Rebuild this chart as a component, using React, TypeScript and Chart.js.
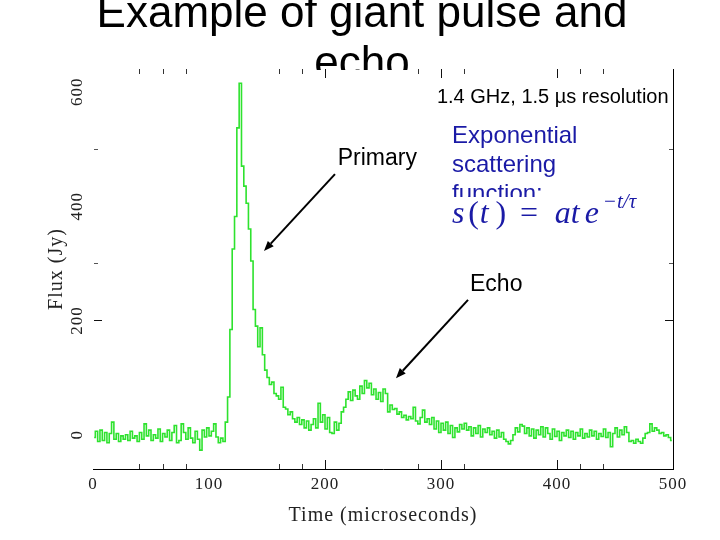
import { useEffect, useRef } from "react";
import { Chart, registerables } from "chart.js";

Chart.register(...registerables);

// ---- data (flux density per 2 µs bin) ----
const BIN_US = 2;
const fluxJy: number[] = [
  -5, 6, -12, 8, -10, 4, -14, 2, 22, -8,
  2, -12, -2, -8, 0, -10, 6, -6, -2, -12,
  4, -8, 19, -2, 8, -10, 0, -6, 10, -12,
  2, -4, 8, -10, 4, 16, -14, -10, 19, 4,
  -8, 12, -6, -14, 6, -8, -27, 8, -4, 12,
  -2, 6, 19, -4, -14, -6, -12,
  22, 66, 184, 325, 382, 537, 615, 470, 435, 405,
  360, 304, 219, 190, 154, 187, 140, 113, 100, 88,
  92, 72, 68, 62, 83, 48, 45, 35, 40, 28,
  22, 30, 18, 26, 12, 24, 8, 18, 28, 12,
  55, 22, 35, 10, 30, 4, 2, 22, 8, 20,
  40, 48, 62, 75, 60, 78, 68, 62, 85, 72,
  95, 82, 90, 70, 80, 62, 74, 58, 80, 72,
  40, 52, 44, 46, 36, 40, 30, 34, 26, 32,
  28, 48, 24, 19, 30, 43, 22, 28, 18, 30,
  10, 24, 4, 20, 8, 22, 2, 16, -5, 12,
  5, 18, 10, 20, 8, 14, -2, 12, 2, 16,
  -4, 10, 4, 12, 0, 6, -6, 8, -4, 4,
  -8, -12, -16, -10, 0, 12, 5, 18, 15, 2,
  12, -2, 10, -6, 8, 0, 14, -4, 12, 2,
  -8, 10, -3, 6, -10, 4, -2, 8, -5, 6,
  -8, 4, -2, 10, -6, 2, -4, 8, -2, 6,
  -8, 2, -3, 10, -5, 4, -21, 2, 12, -4,
  8, 0, 14, 4, -12, -10, -15, -8, -12, -15,
  -6, 2, 4, 19, 6, 12, 8, 2, 4, -2,
  0, -5, -10,
];
const timeUs: number[] = fluxJy.map((_, i) => i * BIN_US + BIN_US / 2);

const xTickLabels = [0, 100, 200, 300, 400, 500];
const yTickLabels = [0, 200, 400, 600];
const xMajorTickMarks = [200, 300, 400];
const xMinorTickMarks = [40, 60, 80, 160, 180, 280, 320, 420, 440];
const yMajorTickMarks = [200];
const yMinorTickMarks = [300, 500];

const titleLines = ["Example of giant pulse and", "echo"];
const xAxisTitle = "Time (microseconds)";
const yAxisTitle = "Flux (Jy)";
const freqNote = "1.4 GHz, 1.5 µs resolution";
const primaryNote = "Primary";
const scatterLines = ["Exponential", "scattering", "function:"];
const echoNote = "Echo";

// annotation anchors in data coordinates (time µs, flux Jy)
const freqAt = { t: 296.5, f: 580 };
const primaryAt = { t: 211, f: 472 };
const scatterAt = { t: 309.5, f: [510, 460, 409], clipF: 416 };
const echoAt = { t: 325, f: 251 };
const primaryArrow = { t1: 208.6, f1: 456, t2: 147.4, f2: 321.5 };
const echoArrow = { t1: 323.3, f1: 236, t2: 261.2, f2: 99 };
const formulaAt = { f: 370, supF: 397 };
const formulaParts = [
  { s: "s", t: 309.5, italic: true, sup: false },
  { s: "(", t: 323.5, italic: false, sup: false },
  { s: "t", t: 333.5, italic: true, sup: false },
  { s: ")", t: 347, italic: false, sup: false },
  { s: "=", t: 368, italic: false, sup: false },
  { s: "at", t: 398, italic: true, sup: false },
  { s: "e", t: 424, italic: true, sup: false },
  { s: "−t/τ", t: 439.5, italic: true, sup: true },
];

const SANS = '"Liberation Sans", Arial, sans-serif';
const SERIF = '"Liberation Serif", "Times New Roman", serif';
const GREEN = "#2ee22e";
const BLUE = "#1a1aa6";

function drawArrow(ctx: CanvasRenderingContext2D, x1: number, y1: number, x2: number, y2: number) {
  const ang = Math.atan2(y2 - y1, x2 - x1);
  const head = 10;
  const half = 4;
  const bx = x2 - head * Math.cos(ang);
  const by = y2 - head * Math.sin(ang);
  ctx.beginPath();
  ctx.moveTo(x1, y1);
  ctx.lineTo(bx, by);
  ctx.stroke();
  ctx.beginPath();
  ctx.moveTo(x2, y2);
  ctx.lineTo(bx + half * Math.sin(ang), by - half * Math.cos(ang));
  ctx.lineTo(bx - half * Math.sin(ang), by + half * Math.cos(ang));
  ctx.closePath();
  ctx.fill();
}

const decorPlugin = {
  id: "decor",
  beforeDraw(chart: any) {
    const ctx: any = chart.ctx;
    ctx.save();
    ctx.beginPath();
    ctx.rect(0, 0, chart.width, chart.chartArea.top + 1);
    ctx.clip();
    ctx.fillStyle = "#000";
    ctx.font = `44px ${SANS}`;
    ctx.textAlign = "center";
    ctx.textBaseline = "alphabetic";
    ctx.fillText(titleLines[0], 362, 27);
    ctx.fillText(titleLines[1], 362, 77);
    ctx.restore();
    // wider spacing for the plot's axis lettering
    if ("letterSpacing" in ctx) ctx.letterSpacing = "1px";
  },
  beforeDatasetsDraw(chart: any) {
    const ctx: any = chart.ctx;
    if ("letterSpacing" in ctx) ctx.letterSpacing = "0px";
  },
  afterDatasetsDraw(chart: any) {
    const ctx: CanvasRenderingContext2D = chart.ctx;
    const a = chart.chartArea;
    const xs = chart.scales.x;
    const ys = chart.scales.y;
    ctx.save();
    ctx.lineWidth = 1;
    const vtick = (v: number, len: number, color: string) => {
      const px = Math.round(xs.getPixelForValue(v)) + 0.5;
      ctx.strokeStyle = color;
      ctx.beginPath();
      ctx.moveTo(px, a.bottom);
      ctx.lineTo(px, a.bottom - len);
      ctx.moveTo(px, a.top);
      ctx.lineTo(px, a.top + len);
      ctx.stroke();
    };
    const htick = (v: number, len: number, color: string) => {
      const py = Math.round(ys.getPixelForValue(v)) + 0.5;
      ctx.strokeStyle = color;
      ctx.beginPath();
      ctx.moveTo(a.left + 1, py);
      ctx.lineTo(a.left + 1 + len, py);
      ctx.moveTo(a.right, py);
      ctx.lineTo(a.right - len, py);
      ctx.stroke();
    };
    xMajorTickMarks.forEach((v) => vtick(v, 9, "#111"));
    xMinorTickMarks.forEach((v) => vtick(v, 5, "#333"));
    yMajorTickMarks.forEach((v) => htick(v, 8, "#111"));
    yMinorTickMarks.forEach((v) => htick(v, 4, "#555"));
    ctx.strokeStyle = "#000";
    const rx = Math.round(a.right) + 0.5;
    ctx.beginPath();
    ctx.moveTo(rx, a.top);
    ctx.lineTo(rx, a.bottom);
    ctx.stroke();
    ctx.restore();
  },
  afterDraw(chart: any) {
    const ctx: CanvasRenderingContext2D = chart.ctx;
    const xs = chart.scales.x;
    const ys = chart.scales.y;
    const X = (t: number) => xs.getPixelForValue(t);
    const Y = (f: number) => ys.getPixelForValue(f);
    ctx.save();
    ctx.textAlign = "left";
    ctx.textBaseline = "alphabetic";

    ctx.fillStyle = "#000";
    ctx.font = `20px ${SANS}`;
    ctx.fillText(freqNote, X(freqAt.t), Y(freqAt.f));

    ctx.font = `23px ${SANS}`;
    ctx.fillText(primaryNote, X(primaryAt.t), Y(primaryAt.f));
    ctx.fillText(echoNote, X(echoAt.t), Y(echoAt.f));

    ctx.save();
    ctx.beginPath();
    ctx.rect(0, 0, chart.width, Y(scatterAt.clipF));
    ctx.clip();
    ctx.fillStyle = BLUE;
    ctx.font = `24px ${SANS}`;
    scatterLines.forEach((line, i) => ctx.fillText(line, X(scatterAt.t), Y(scatterAt.f[i])));
    ctx.restore();

    ctx.fillStyle = BLUE;
    formulaParts.forEach((p) => {
      const size = p.sup ? 21 : 32;
      ctx.font = `${p.italic ? "italic " : ""}${size}px ${SERIF}`;
      ctx.fillText(p.s, X(p.t), Y(p.sup ? formulaAt.supF : formulaAt.f));
    });

    ctx.strokeStyle = "#000";
    ctx.fillStyle = "#000";
    ctx.lineWidth = 2;
    drawArrow(ctx, X(primaryArrow.t1), Y(primaryArrow.f1), X(primaryArrow.t2), Y(primaryArrow.f2));
    drawArrow(ctx, X(echoArrow.t1), Y(echoArrow.f1), X(echoArrow.t2), Y(echoArrow.f2));
    ctx.restore();
  },
};

export default function App() {
  const ref = useRef<HTMLCanvasElement>(null);
  useEffect(() => {
    if (!ref.current) return;
    const chart = new Chart(ref.current, {
      type: "line",
      data: {
        datasets: [
          {
            data: timeUs.map((t, i) => ({ x: t, y: fluxJy[i] })),
            borderColor: GREEN,
            borderWidth: 1.6,
            pointRadius: 0,
            stepped: "middle",
            fill: false,
          },
        ],
      },
      options: {
        responsive: false,
        animation: false,
        devicePixelRatio: 1,
        layout: { padding: { left: 0, top: 69, right: 47, bottom: 0 } },
        plugins: {
          legend: { display: false },
          tooltip: { enabled: false },
          title: { display: false },
        },
        scales: {
          x: {
            type: "linear",
            min: 0,
            max: 500,
            afterBuildTicks: (s: any) => {
              s.ticks = xTickLabels.map((v) => ({ value: v }));
            },
            afterFit: (s: any) => {
              s.height = 71;
            },
            grid: { display: false, drawTicks: false },
            border: { display: true, color: "#000", width: 1 },
            ticks: {
              padding: 5,
              maxRotation: 0,
              autoSkip: false,
              color: "#222",
              font: { family: SERIF, size: 17 },
            },
            title: {
              display: true,
              text: xAxisTitle,
              color: "#222",
              font: { family: SERIF, size: 20 },
              padding: { top: 0, bottom: 12 },
            },
          },
          y: {
            type: "linear",
            min: -60,
            max: 640,
            afterBuildTicks: (s: any) => {
              s.ticks = yTickLabels.map((v) => ({ value: v }));
            },
            afterFit: (s: any) => {
              s.width = 93;
            },
            grid: { display: false, drawTicks: false },
            border: { display: false },
            ticks: {
              padding: 3,
              minRotation: 90,
              maxRotation: 90,
              crossAlign: "center",
              autoSkip: false,
              color: "#222",
              font: { family: SERIF, size: 17 },
            },
            title: {
              display: true,
              text: yAxisTitle,
              color: "#222",
              font: { family: SERIF, size: 20 },
              padding: { top: 45, bottom: 0 },
            },
          },
        },
      } as any,
      plugins: [decorPlugin],
    });
    return () => chart.destroy();
  }, []);
  return (
    <div style={{ position: "fixed", left: 0, top: 0, width: 720, height: 540, background: "#fff" }}>
      <canvas ref={ref} width={720} height={540} style={{ display: "block" }} />
    </div>
  );
}
